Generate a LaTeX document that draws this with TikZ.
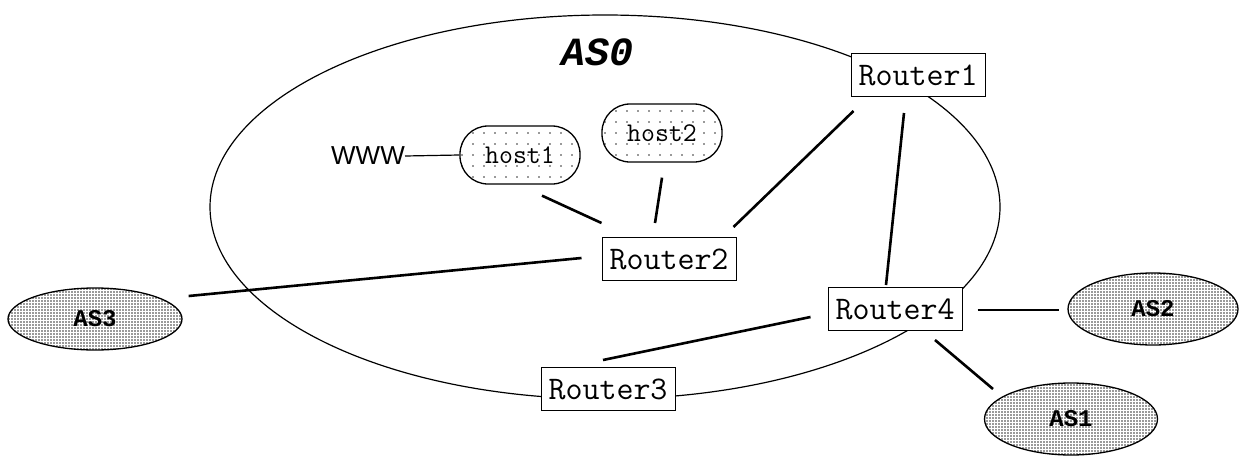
\documentclass[tikz,border=0pt]{standalone}
\usepackage{fontspec}
\setmainfont{Liberation Serif}
\setsansfont{Liberation Sans}
\setmonofont{Liberation Mono}
\newfontfamily\lmtt{Latin Modern Mono}
\usetikzlibrary{patterns,patterns.meta,shapes.geometric}
\tikzdeclarepattern{name=sparsedots, type=uncolored,
  bounding box={(-1pt,-1pt) and (1pt,1pt)},
  tile size={(11pt,11pt)},
  code={\fill (0pt,0pt) circle (0.9pt);}}
\tikzdeclarepattern{name=densedots, type=uncolored,
  bounding box={(-1pt,-1pt) and (1pt,1pt)},
  tile size={(3pt,3pt)},
  code={\fill (0pt,0pt) circle (0.9pt);}}
\tikzset{
  router/.style={draw, line width=1pt, fill=white, inner sep=0pt,
    minimum width=134pt, minimum height=43pt,
    font=\lmtt\fontsize{33}{36}\selectfont},
  hostbox/.style={draw, line width=1.3pt, rounded corners=28pt, inner sep=0pt,
    minimum width=120pt, minimum height=58pt,
    preaction={fill=white}, pattern=sparsedots, pattern color=black!80,
    font=\lmtt\fontsize{27}{30}\selectfont},
  asnode/.style={draw, ellipse, line width=1.3pt, inner sep=0pt,
    preaction={fill=white}, pattern=densedots, pattern color=black!80,
    font=\ttfamily\bfseries\fontsize{24}{28}\selectfont},
  conn/.style={line width=2.6pt},
  thin/.style={line width=1.2pt}
}
\begin{document}
\begin{tikzpicture}[x=1pt,y=-1pt]
\useasboundingbox (0,0) rectangle (1244,463);
\draw[thin] (605,207) ellipse [x radius=395, y radius=192];
\node[font=\ttfamily\bfseries\itshape\fontsize{40}{44}\selectfont] (as0) at (597,52) {AS0};
\node[router] (router1) at (918,75) {Router1};
\node[router] (router2) at (669,259) {Router2};
\node[router] (router3) at (608,389) {Router3};
\node[router] (router4) at (895,309) {Router4};
\node[hostbox] (host1) at (520,155) {host1};
\node[hostbox] (host2) at (662,133) {host2};
\node[font=\sffamily\fontsize{26}{30}\selectfont, inner sep=0pt, anchor=east] (www) at (405,156) {WWW};
\node[asnode, minimum width=174pt, minimum height=62pt] (as3) at (95,319) {AS3};
\node[asnode, minimum width=170pt, minimum height=72pt] (as2) at (1153,309) {AS2};
\node[asnode, minimum width=173pt, minimum height=72pt] (as1) at (1071,419) {AS1};
\draw[thin] (www.east) -- (host1.west);
\draw[conn] ([shift={(22,11)}]host1.south) -- ([shift={(0,-14)}]router2.north west);
\draw[conn] ([shift={(0,15)}]host2.south) -- ([shift={(-14,-14)}]router2.north);
\draw[conn] ([shift={(-3,-10)}]router2.north east) -- ([shift={(3,14)}]router1.south west);
\draw[conn] ([shift={(-14,16)}]router1.south) -- ([shift={(-9,-2)}]router4.north);
\draw[conn] ([shift={(6,-23)}]as3.east) -- ([shift={(-20,-1)}]router2.west);
\draw[conn] ([shift={(-17,8)}]router4.west) -- ([shift={(-5,-7)}]router3.north);
\draw[conn] ([shift={(15,1)}]router4.east) -- ([shift={(-8,1)}]as2.west);
\draw[conn] ([shift={(40,9)}]router4.south) -- ([shift={(-78,-30)}]as1.center);
\end{tikzpicture}
\end{document}
